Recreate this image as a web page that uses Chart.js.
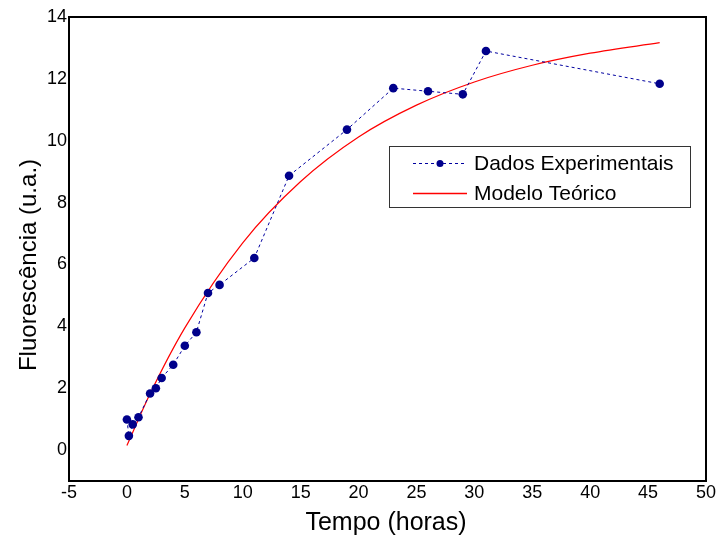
<!DOCTYPE html>
<html><head><meta charset="utf-8">
<script src="https://cdn.jsdelivr.net/npm/chart.js@4/dist/chart.umd.min.js"></script>
<style>html,body{margin:0;padding:0;background:#fff}#wrap{width:718px;height:539px}</style>
</head><body><div id="wrap"><canvas id="c" width="718" height="539"></canvas></div>
<script>
const expTimes = [0, 0.17, 0.5, 1, 2, 2.5, 3, 4, 5, 6, 7, 8, 11, 14, 19, 23, 26, 29, 31, 46];
const expValues = [0.99, 0.46, 0.83, 1.06, 1.83, 2.0, 2.33, 2.76, 3.37, 3.81, 5.08, 5.34, 6.21, 8.87, 10.36, 11.7, 11.6, 11.5, 12.9, 11.84];
const modelTimes = [0, 2, 5, 10, 15, 20, 25, 30, 35, 40, 46];
const modelValues = [0.15, 1.82, 3.95, 6.70, 8.68, 10.12, 11.15, 11.90, 12.44, 12.83, 13.17];
const xTicks = [-5, 0, 5, 10, 15, 20, 25, 30, 35, 40, 45, 50];
const yTicks = [0, 2, 4, 6, 8, 10, 12, 14];
const labels = ['Dados Experimentais', 'Modelo Teórico'];
const xTitle = 'Tempo (horas)';
const yTitle = 'Fluorescência (u.a.)';

const FONT = "'Liberation Sans', Arial, sans-serif";

const frame = {
  id: 'frame',
  afterDraw(chart) {
    const {ctx, chartArea: a} = chart;
    ctx.save();
    ctx.strokeStyle = '#000';
    ctx.lineWidth = 2;
    ctx.strokeRect(a.left, a.top, a.right - a.left, a.bottom - a.top);
    // axis titles
    ctx.fillStyle = '#000';
    ctx.font = '25px ' + FONT;
    ctx.textAlign = 'center';
    ctx.textBaseline = 'alphabetic';
    ctx.fillText(xTitle, 386, 530);
    ctx.save();
    ctx.translate(36, 265);
    ctx.rotate(-Math.PI / 2);
    ctx.font = '24px ' + FONT;
    ctx.fillText(yTitle, 0, 0);
    ctx.restore();
    // legend
    const lx = 389, ly = 146, lw = 301, lh = 61;
    ctx.fillStyle = '#fff';
    ctx.fillRect(lx, ly, lw, lh);
    ctx.lineWidth = 1;
    ctx.strokeStyle = '#333';
    ctx.strokeRect(lx + 0.5, ly + 0.5, lw, lh);
    const y1 = 163, y2 = 193;
    ctx.strokeStyle = '#0000A0';
    ctx.setLineDash([3, 3]);
    ctx.beginPath(); ctx.moveTo(413, y1 + 0.5); ctx.lineTo(467, y1 + 0.5); ctx.stroke();
    ctx.setLineDash([]);
    ctx.fillStyle = '#00008B';
    ctx.beginPath(); ctx.arc(440, y1 + 0.5, 3.5, 0, Math.PI * 2); ctx.fill();
    ctx.strokeStyle = '#FF0000';
    ctx.lineWidth = 1.3;
    ctx.beginPath(); ctx.moveTo(413, y2 + 0.5); ctx.lineTo(467, y2 + 0.5); ctx.stroke();
    ctx.fillStyle = '#000';
    ctx.font = '21px ' + FONT;
    ctx.textBaseline = 'middle';
    ctx.textAlign = 'left';
    ctx.fillText(labels[0], 474, y1 + 1);
    ctx.fillText(labels[1], 474, y2 + 1);
    ctx.restore();
  }
};

new Chart(document.getElementById('c'), {
  type: 'scatter',
  data: {
    datasets: [
      {
        label: labels[0],
        data: expTimes.map((t, i) => ({x: t, y: expValues[i]})),
        showLine: true,
        borderColor: '#0000A0',
        borderWidth: 1,
        borderDash: [3, 3],
        pointRadius: 4.3,
        pointBackgroundColor: '#00008B',
        pointBorderColor: '#00008B',
        pointBorderWidth: 0,
        order: 1
      },
      {
        label: labels[1],
        data: modelTimes.map((t, i) => ({x: t, y: modelValues[i]})),
        showLine: true,
        borderColor: '#FF0000',
        borderWidth: 1.2,
        pointRadius: 0,
        cubicInterpolationMode: 'monotone',
        order: 2
      }
    ]
  },
  options: {
    responsive: false,
    animation: false,
    layout: {padding: {top: 17, right: 12, left: 0, bottom: 0}},
    plugins: {legend: {display: false}, tooltip: {enabled: false}},
    scales: {
      x: {
        type: 'linear', min: -5, max: 50,
        afterBuildTicks(s) { s.ticks = xTicks.map(v => ({value: v})); },
        afterFit(s) { s.height = 58; },
        grid: {display: false, drawTicks: false, tickLength: 0},
        border: {display: true, color: '#000', width: 2},
        ticks: {color: '#000', font: {family: FONT, size: 18}, padding: 1, maxRotation: 0, autoSkip: false},
        title: {display: false}
      },
      y: {
        type: 'linear', min: -1, max: 14,
        afterBuildTicks(s) { s.ticks = yTicks.map(v => ({value: v})); },
        afterFit(s) { s.width = 69; },
        grid: {display: false, drawTicks: false, tickLength: 0},
        border: {display: true, color: '#000', width: 2},
        ticks: {color: '#000', font: {family: FONT, size: 18}, padding: 2, autoSkip: false},
        title: {display: false}
      }
    }
  },
  plugins: [frame]
});
</script>
</body></html>
